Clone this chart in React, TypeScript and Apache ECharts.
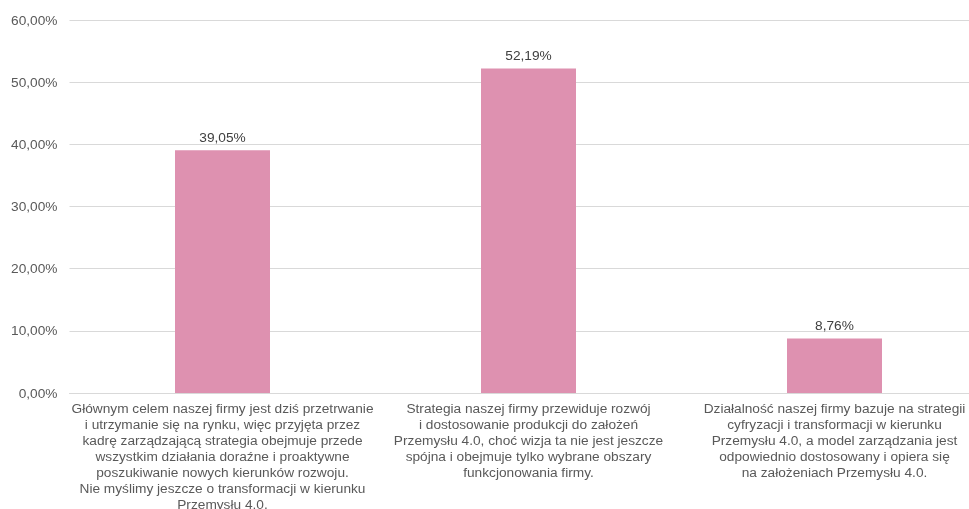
import React, { useEffect, useRef } from "react";
import * as echarts from "echarts";

const categories: string[] = [
  "Głównym celem naszej firmy jest dziś przetrwanie\ni utrzymanie się na rynku, więc przyjęta przez\nkadrę zarządzającą strategia obejmuje przede\nwszystkim działania doraźne i proaktywne\nposzukiwanie nowych kierunków rozwoju.\nNie myślimy jeszcze o transformacji w kierunku\nPrzemysłu 4.0.",
  "Strategia naszej firmy przewiduje rozwój\ni dostosowanie produkcji do założeń\nPrzemysłu 4.0, choć wizja ta nie jest jeszcze\nspójna i obejmuje tylko wybrane obszary\nfunkcjonowania firmy.",
  "Działalność naszej firmy bazuje na strategii\ncyfryzacji i transformacji w kierunku\nPrzemysłu 4.0, a model zarządzania jest\nodpowiednio dostosowany i opiera się\nna założeniach Przemysłu 4.0.",
];
const values: number[] = [39.05, 52.19, 8.76];

const fmt = (v: number) => v.toFixed(2).replace(".", ",") + "%";
const FONT = "Liberation Sans, Arial, sans-serif";

export default function App() {
  const ref = useRef<HTMLDivElement>(null);
  useEffect(() => {
    if (!ref.current) return;
    const chart = echarts.init(ref.current, null, { renderer: "svg" });
    chart.setOption({
      animation: false,
      textStyle: { fontFamily: FONT },
      grid: {
        left: 69.5,
        top: 20,
        width: 918,
        height: 373,
        containLabel: false,
        outerBoundsMode: "none",
      },
      xAxis: {
        type: "category",
        data: categories,
        axisLine: { show: true, lineStyle: { color: "#d9d9d9", width: 1 } },
        axisTick: { show: false },
        axisLabel: {
          interval: 0,
          color: "#595959",
          fontSize: 13.7,
          lineHeight: 16,
          margin: 7,
          fontFamily: FONT,
        },
      },
      yAxis: {
        type: "value",
        min: 0,
        max: 60,
        interval: 10,
        axisLine: { show: false },
        axisTick: { show: false },
        splitLine: { lineStyle: { color: "#d9d9d9", width: 1 } },
        axisLabel: {
          color: "#595959",
          fontSize: 13.7,
          margin: 12,
          formatter: (v: number) => fmt(v),
          fontFamily: FONT,
        },
      },
      series: [
        {
          type: "bar",
          data: values,
          barWidth: 95,
          itemStyle: { color: "#DE91B0" },
          label: {
            show: true,
            position: "top",
            distance: 6,
            color: "#404040",
            fontSize: 13.7,
            formatter: (p: any) => fmt(p.value),
            fontFamily: FONT,
          },
        },
      ],
    });
    return () => chart.dispose();
  }, []);
  return (
    <div
      ref={ref}
      style={{ position: "fixed", left: 0, top: 0, width: 969, height: 509 }}
    />
  );
}
